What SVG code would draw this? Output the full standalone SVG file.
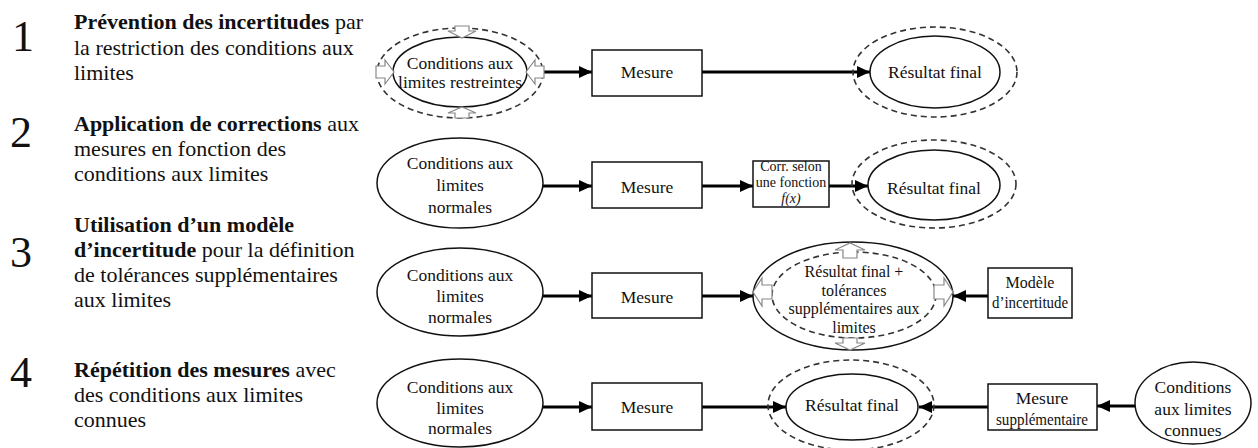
<svg xmlns="http://www.w3.org/2000/svg" width="1258" height="448" viewBox="0 0 1258 448">
<style>
text{font-family:"Liberation Serif","Times New Roman",serif;fill:#111}
.num{font-size:44px}
.desc{font-size:22px}
.b{font-weight:bold}
.n{font-size:17.5px;text-anchor:middle}
.m{font-size:16px;text-anchor:middle}
.s{font-size:14px;text-anchor:middle}
.solid{fill:#fff;stroke:#111;stroke-width:1.5}
.dash{fill:none;stroke:#333;stroke-width:1.6;stroke-dasharray:6 4}
.box{fill:#fff;stroke:#111;stroke-width:1.5}
.conn{stroke:#000;stroke-width:3;fill:none;marker-end:url(#ah)}
.hol{fill:#fff;stroke:#888;stroke-width:1.2}
</style>
<defs>
<marker id="ah" markerUnits="userSpaceOnUse" markerWidth="14" markerHeight="12" refX="13" refY="6" orient="auto">
<path d="M0,0 L13,6 L0,12 z" fill="#000"/>
</marker>
</defs>
<rect width="1258" height="448" fill="#fff"/>

<g id="legend">
<text class="num" x="12" y="51">1</text>
<text class="desc" x="74" y="29"><tspan class="b">Prévention des incertitudes</tspan> par</text>
<text class="desc" x="74" y="55">la restriction des conditions aux</text>
<text class="desc" x="74" y="80">limites</text>
<text class="num" x="10" y="147">2</text>
<text class="desc" x="74" y="131"><tspan class="b">Application de corrections</tspan> aux</text>
<text class="desc" x="74" y="156">mesures en fonction des</text>
<text class="desc" x="74" y="181">conditions aux limites</text>
<text class="num" x="10" y="267">3</text>
<text class="desc" x="74" y="232"><tspan class="b">Utilisation d’un modèle</tspan></text>
<text class="desc" x="74" y="257"><tspan class="b">d’incertitude</tspan> pour la définition</text>
<text class="desc" x="74" y="282">de tolérances supplémentaires</text>
<text class="desc" x="74" y="307">aux limites</text>
<text class="num" x="10" y="387">4</text>
<text class="desc" x="74" y="377"><tspan class="b">Répétition des mesures</tspan> avec</text>
<text class="desc" x="74" y="402">des conditions aux limites</text>
<text class="desc" x="74" y="427">connues</text>
</g>

<g id="connectors">
<line class="conn" x1="526" y1="72" x2="592" y2="72"/>
<line class="conn" x1="702" y1="72" x2="870" y2="72"/>
<line class="conn" x1="542" y1="186" x2="592" y2="186"/>
<line class="conn" x1="702" y1="186" x2="753" y2="186"/>
<line class="conn" x1="829" y1="186" x2="868" y2="186"/>
<line class="conn" x1="542" y1="296" x2="592" y2="296"/>
<line class="conn" x1="702" y1="296" x2="753" y2="296"/>
<line class="conn" x1="988" y1="296" x2="953" y2="296"/>
<line class="conn" x1="542" y1="407" x2="592" y2="407"/>
<line class="conn" x1="702" y1="407" x2="786" y2="407"/>
<line class="conn" x1="988" y1="407" x2="919" y2="407"/>
<line class="conn" x1="1135" y1="406" x2="1097" y2="406"/>
</g>

<g id="r1-conditions">
<ellipse class="dash" cx="460" cy="73" rx="83" ry="45"/>
<ellipse class="solid" cx="460" cy="72" rx="67" ry="35"/>
<polygon class="hol" points="455,26 469,26 469,31 476,31 462,38 448,31 455,31"/>
<polygon class="hol" points="455,118 469,118 469,113 476,113 462,107 448,113 455,113"/>
<polygon class="hol" points="376,66 376,78 385,78 385,84 394,72 385,60 385,66"/>
<polygon class="hol" points="544,66 544,78 535,78 535,84 526,72 535,60 535,66"/>
<text class="n" x="460" y="69">Conditions aux</text>
<text class="n" x="460" y="88">limites restreintes</text>
</g>
<g id="r1-mesure">
<rect class="box" x="592" y="50" width="110" height="46"/>
<text class="n" x="647" y="78">Mesure</text>
</g>
<g id="r1-resultat">
<ellipse class="dash" cx="935" cy="72" rx="82" ry="45"/>
<ellipse class="solid" cx="935" cy="72" rx="65" ry="36"/>
<text class="n" x="935" y="78">Résultat final</text>
</g>

<g id="r2-conditions">
<ellipse class="solid" cx="460" cy="183" rx="83" ry="45"/>
<text class="n" x="460" y="169">Conditions aux</text>
<text class="n" x="460" y="191">limites</text>
<text class="n" x="460" y="213">normales</text>
</g>
<g id="r2-mesure">
<rect class="box" x="592" y="162" width="110" height="46"/>
<text class="n" x="647" y="193">Mesure</text>
</g>
<g id="r2-correction">
<rect class="box" x="753" y="161" width="76" height="46"/>
<text class="s" x="791" y="171">Corr. selon</text>
<text class="s" x="791" y="187">une fonction</text>
<text class="s" x="791" y="203" font-style="italic">f(x)</text>
</g>
<g id="r2-resultat">
<ellipse class="dash" cx="934" cy="184" rx="82" ry="44"/>
<ellipse class="solid" cx="934" cy="185" rx="66" ry="35"/>
<text class="n" x="934" y="194">Résultat final</text>
</g>

<g id="r3-conditions">
<ellipse class="solid" cx="460" cy="292" rx="83" ry="44"/>
<text class="n" x="460" y="281">Conditions aux</text>
<text class="n" x="460" y="302">limites</text>
<text class="n" x="460" y="323">normales</text>
</g>
<g id="r3-mesure">
<rect class="box" x="592" y="273" width="110" height="45"/>
<text class="n" x="647" y="303">Mesure</text>
</g>
<g id="r3-resultat">
<ellipse class="solid" cx="853" cy="296" rx="100" ry="54"/>
<ellipse class="dash" cx="854" cy="295" rx="82" ry="43"/>
<polygon class="hol" points="843,258 857,258 857,250 865,250 850,243 835,250 843,250"/>
<polygon class="hol" points="843,338 857,338 857,343 865,343 850,350 835,343 843,343"/>
<polygon class="hol" points="772,285 772,299 762,299 762,306 753,292 762,278 762,285"/>
<polygon class="hol" points="934,285 934,299 944,299 944,306 953,292 944,278 944,285"/>
<text class="m" x="854" y="277">Résultat final +</text>
<text class="m" x="854" y="295.5">tolérances</text>
<text class="m" x="854" y="314">supplémentaires aux</text>
<text class="m" x="854" y="332.5">limites</text>
</g>
<g id="r3-modele">
<rect class="box" x="988" y="268" width="84" height="50"/>
<text class="m" x="1030" y="288">Modèle</text>
<text class="m" x="1030" y="308" textLength="76" lengthAdjust="spacingAndGlyphs">d’incertitude</text>
</g>

<g id="r4-conditions">
<ellipse class="solid" cx="460" cy="403" rx="83" ry="44"/>
<text class="n" x="460" y="393">Conditions aux</text>
<text class="n" x="460" y="414">limites</text>
<text class="n" x="460" y="434">normales</text>
</g>
<g id="r4-mesure">
<rect class="box" x="592" y="383" width="110" height="47"/>
<text class="n" x="647" y="413">Mesure</text>
</g>
<g id="r4-resultat">
<ellipse class="dash" cx="851" cy="405" rx="83" ry="45"/>
<ellipse class="solid" cx="852" cy="407" rx="66" ry="33"/>
<text class="n" x="852" y="411">Résultat final</text>
</g>
<g id="r4-mesure-supp">
<rect class="box" x="988" y="384" width="109" height="46"/>
<text class="n" x="1042" y="404">Mesure</text>
<text class="n" x="1042" y="425" textLength="92" lengthAdjust="spacingAndGlyphs">supplémentaire</text>
</g>
<g id="r4-conditions-connues">
<ellipse class="solid" cx="1193" cy="403" rx="58" ry="41"/>
<text class="n" x="1193" y="393">Conditions</text>
<text class="n" x="1193" y="415">aux limites</text>
<text class="n" x="1193" y="436">connues</text>
</g>
</svg>
